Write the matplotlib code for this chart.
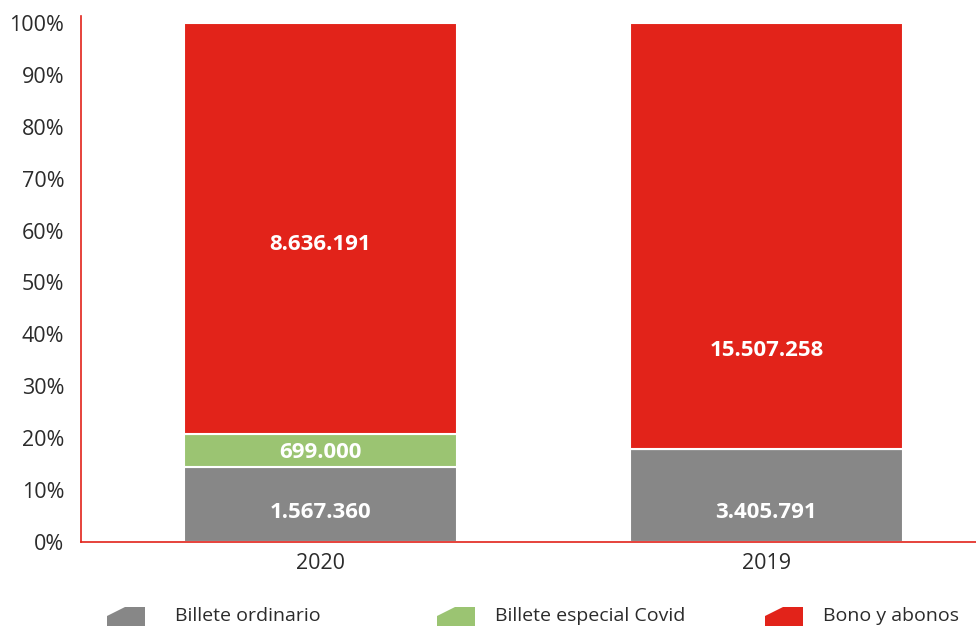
import matplotlib
matplotlib.use("Agg")
import matplotlib.pyplot as plt
from matplotlib.patches import Polygon
import numpy as np

plt.rcParams['font.family'] = ['Open Sans', 'DejaVu Sans']

# Data
years = ["2020", "2019"]
series_names = ["Billete ordinario", "Billete especial Covid", "Bono y abonos"]
billete_ordinario = [1567360, 3405791]
billete_covid = [699000, 0]
bono_abonos = [8636191, 15507258]
value_labels = [["1.567.360", "3.405.791"], ["699.000", ""], ["8.636.191", "15.507.258"]]
y_ticks = [0, 10, 20, 30, 40, 50, 60, 70, 80, 90, 100]

colors = ["#878787", "#9bc472", "#e2231a"]
text_color = "#2b2b2b"
spine_color = "#e2231a"

counts = np.array([billete_ordinario, billete_covid, bono_abonos], dtype=float)
shares = counts / counts.sum(axis=0) * 100

fig = plt.figure(figsize=(9.76, 6.28), dpi=100)
ax = fig.add_axes([81 / 976, 86 / 628, 1 - 81 / 976, (542 - 15.7) / 628])

x = np.arange(len(years))
width = 0.612
bottom = np.zeros(len(years))
# label heights inside each segment (fraction of the segment height)
label_frac = [[0.40, 0.32], [0.45, 0.5], [0.46, 0.23]]
for i, name in enumerate(series_names):
    ax.bar(x, shares[i], width, bottom=bottom, color=colors[i],
           edgecolor="white", linewidth=1.5, label=name, zorder=2)
    for j in range(len(years)):
        if value_labels[i][j]:
            ax.text(x[j], bottom[j] + shares[i][j] * label_frac[i][j], value_labels[i][j],
                    ha="center", va="center", color="white", fontsize=16,
                    fontweight="bold", zorder=3)
    bottom += shares[i]

ax.set_xlim(-0.537, 1.47)
ax.set_ylim(0, 101.4)
ax.set_yticks(y_ticks)
ax.set_yticklabels([f"{t}%" for t in y_ticks])
ax.set_xticks(x)
ax.set_xticklabels(years)
ax.tick_params(axis="both", length=0, labelsize=15.5, labelcolor=text_color)
ax.tick_params(axis="y", pad=12)
ax.tick_params(axis="x", pad=8)
for side in ["top", "right"]:
    ax.spines[side].set_visible(False)
for side in ["left", "bottom"]:
    ax.spines[side].set_color(spine_color)
    ax.spines[side].set_linewidth(1.2)

# Legend with slanted swatches drawn in figure pixel space
legend_swatch_x = [107, 437, 765]
legend_text_x = [175, 495, 823]
for sx, tx, c, name in zip(legend_swatch_x, legend_text_x, colors, series_names):
    pts = [(sx, 628 - 626), (sx + 38, 628 - 626), (sx + 38, 628 - 607),
           (sx + 18, 628 - 607), (sx, 628 - 616)]
    pts = [(px / 976, py / 628) for px, py in pts]
    fig.patches.append(Polygon(pts, closed=True, facecolor=c, edgecolor="none",
                               transform=fig.transFigure, figure=fig))
    fig.text(tx / 976, 1 - 616 / 628, name, ha="left", va="center",
             fontsize=14, color=text_color)

fig.savefig("out.png", dpi=100)
